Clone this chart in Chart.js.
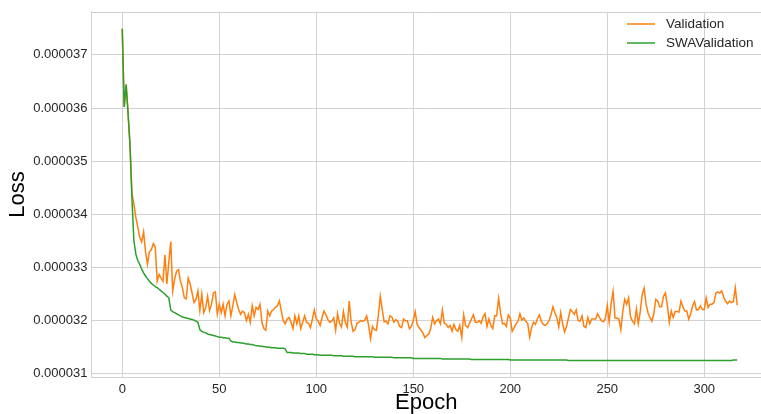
<!DOCTYPE html>
<html>
<head>
<meta charset="utf-8">
<script src="https://cdn.jsdelivr.net/npm/chart.js@4/dist/chart.umd.min.js"></script>
<style>
  html, body { margin: 0; padding: 0; background: #ffffff; }
  #wrap { width: 761px; height: 414px; }
</style>
</head>
<body>
<div id="wrap"><canvas id="lossChart" width="761" height="414"></canvas></div>
<script>
// loss curves, in units of 1e-6
const validation = [
  37.49e-6, 36.02e-6, 36.44e-6, 35.90e-6, 35.30e-6, 34.40e-6, 34.19e-6, 33.94e-6, 33.76e-6, 33.57e-6,
  33.48e-6, 33.67e-6, 33.30e-6, 33.06e-6, 33.30e-6, 33.33e-6, 33.45e-6, 33.39e-6, 32.74e-6, 32.87e-6,
  32.80e-6, 32.74e-6, 33.24e-6, 32.69e-6, 33.10e-6, 33.49e-6, 32.56e-6, 32.78e-6, 32.93e-6, 32.96e-6,
  32.74e-6, 32.62e-6, 32.43e-6, 32.41e-6, 32.80e-6, 32.69e-6, 32.52e-6, 32.34e-6, 32.40e-6, 32.56e-6,
  32.19e-6, 32.50e-6, 32.15e-6, 32.24e-6, 32.46e-6, 32.19e-6, 32.31e-6, 32.52e-6, 32.54e-6, 32.12e-6,
  32.31e-6, 32.15e-6, 32.31e-6, 32.09e-6, 32.31e-6, 32.37e-6, 32.09e-6, 32.28e-6, 32.49e-6, 32.34e-6,
  32.21e-6, 32.12e-6, 32.18e-6, 32.15e-6, 32.00e-6, 32.12e-6, 31.97e-6, 32.28e-6, 32.09e-6, 32.25e-6,
  32.21e-6, 32.31e-6, 31.97e-6, 31.85e-6, 31.82e-6, 32.18e-6, 32.09e-6, 32.18e-6, 32.21e-6, 32.25e-6,
  32.28e-6, 32.37e-6, 32.18e-6, 32.00e-6, 31.94e-6, 32.03e-6, 32.06e-6, 31.97e-6, 31.85e-6, 32.09e-6,
  31.94e-6, 32.09e-6, 31.85e-6, 31.97e-6, 32.09e-6, 31.97e-6, 31.95e-6, 31.87e-6, 32.03e-6, 32.20e-6,
  32.03e-6, 31.99e-6, 31.91e-6, 32.06e-6, 32.18e-6, 32.11e-6, 32.02e-6, 31.97e-6, 31.99e-6, 32.05e-6,
  31.82e-6, 32.13e-6, 31.95e-6, 31.88e-6, 32.17e-6, 31.97e-6, 31.88e-6, 32.37e-6, 31.97e-6, 31.80e-6,
  31.83e-6, 31.95e-6, 31.97e-6, 32.00e-6, 31.99e-6, 32.01e-6, 32.09e-6, 31.91e-6, 31.66e-6, 31.89e-6,
  31.83e-6, 31.82e-6, 32.09e-6, 32.46e-6, 32.21e-6, 31.98e-6, 31.99e-6, 31.94e-6, 32.09e-6, 32.07e-6,
  31.97e-6, 32.02e-6, 31.99e-6, 31.89e-6, 31.87e-6, 32.03e-6, 32.00e-6, 32.00e-6, 31.85e-6, 31.89e-6,
  32.00e-6, 32.17e-6, 31.93e-6, 31.87e-6, 31.82e-6, 31.77e-6, 31.68e-6, 31.72e-6, 31.75e-6, 31.85e-6,
  32.06e-6, 31.94e-6, 32.00e-6, 32.03e-6, 31.94e-6, 32.20e-6, 31.95e-6, 31.93e-6, 31.87e-6, 31.91e-6,
  31.80e-6, 31.93e-6, 31.83e-6, 31.80e-6, 31.91e-6, 31.68e-6, 32.11e-6, 31.91e-6, 31.87e-6, 31.95e-6,
  32.03e-6, 32.11e-6, 31.97e-6, 31.97e-6, 32.00e-6, 31.95e-6, 32.07e-6, 32.13e-6, 31.89e-6, 32.03e-6,
  31.91e-6, 31.85e-6, 32.09e-6, 32.09e-6, 32.42e-6, 32.15e-6, 31.94e-6, 31.95e-6, 31.89e-6, 32.11e-6,
  32.05e-6, 31.80e-6, 31.87e-6, 31.94e-6, 31.99e-6, 32.13e-6, 32.01e-6, 32.05e-6, 31.99e-6, 31.95e-6,
  31.69e-6, 31.87e-6, 31.97e-6, 31.93e-6, 32.03e-6, 32.11e-6, 31.99e-6, 31.93e-6, 31.91e-6, 31.94e-6,
  32.00e-6, 32.11e-6, 32.26e-6, 32.15e-6, 32.06e-6, 31.88e-6, 32.15e-6, 31.94e-6, 31.79e-6, 31.89e-6,
  32.05e-6, 32.21e-6, 32.17e-6, 32.12e-6, 32.20e-6, 32.00e-6, 31.99e-6, 32.09e-6, 31.89e-6, 31.87e-6,
  32.06e-6, 31.94e-6, 32.03e-6, 32.03e-6, 32.03e-6, 32.13e-6, 32.06e-6, 32.00e-6, 31.98e-6, 32.03e-6,
  32.28e-6, 31.97e-6, 32.32e-6, 32.55e-6, 32.05e-6, 32.05e-6, 32.03e-6, 31.83e-6, 32.17e-6, 32.40e-6,
  32.31e-6, 32.43e-6, 32.07e-6, 31.99e-6, 31.94e-6, 32.22e-6, 31.94e-6, 32.17e-6, 32.49e-6, 32.61e-6,
  32.31e-6, 32.15e-6, 32.06e-6, 31.99e-6, 32.13e-6, 32.40e-6, 32.37e-6, 32.26e-6, 32.26e-6, 32.46e-6,
  32.52e-6, 32.28e-6, 31.97e-6, 32.18e-6, 32.06e-6, 32.17e-6, 32.17e-6, 32.16e-6, 32.37e-6, 32.26e-6,
  32.18e-6, 32.18e-6, 32.03e-6, 32.13e-6, 32.28e-6, 32.36e-6, 32.20e-6, 32.21e-6, 32.28e-6, 32.21e-6,
  32.21e-6, 32.43e-6, 32.25e-6, 32.31e-6, 32.31e-6, 32.34e-6, 32.52e-6, 32.54e-6, 32.52e-6, 32.56e-6,
  32.44e-6, 32.37e-6, 32.32e-6, 32.37e-6, 32.34e-6, 32.36e-6, 32.62e-6, 32.29e-6
];

const swaValidation = [
  37.49e-6, 36.02e-6, 36.44e-6, 35.90e-6, 35.30e-6, 34.30e-6, 33.50e-6, 33.25e-6, 33.13e-6, 33.06e-6,
  32.97e-6, 32.90e-6, 32.84e-6, 32.79e-6, 32.74e-6, 32.70e-6, 32.67e-6, 32.64e-6, 32.62e-6, 32.59e-6,
  32.56e-6, 32.53e-6, 32.50e-6, 32.46e-6, 32.43e-6, 32.20e-6, 32.17e-6, 32.15e-6, 32.13e-6, 32.11e-6,
  32.09e-6, 32.07e-6, 32.06e-6, 32.05e-6, 32.04e-6, 32.03e-6, 32.02e-6, 32.01e-6, 31.99e-6, 31.97e-6,
  31.83e-6, 31.80e-6, 31.78e-6, 31.77e-6, 31.75e-6, 31.74e-6, 31.73e-6, 31.72e-6, 31.71e-6, 31.70e-6,
  31.69e-6, 31.69e-6, 31.68e-6, 31.68e-6, 31.67e-6, 31.67e-6, 31.62e-6, 31.60e-6, 31.60e-6, 31.59e-6,
  31.59e-6, 31.58e-6, 31.58e-6, 31.57e-6, 31.56e-6, 31.56e-6, 31.55e-6, 31.55e-6, 31.54e-6, 31.53e-6,
  31.53e-6, 31.52e-6, 31.52e-6, 31.51e-6, 31.51e-6, 31.50e-6, 31.50e-6, 31.49e-6, 31.49e-6, 31.49e-6,
  31.48e-6, 31.48e-6, 31.48e-6, 31.48e-6, 31.47e-6, 31.40e-6, 31.40e-6, 31.40e-6, 31.39e-6, 31.39e-6,
  31.39e-6, 31.39e-6, 31.38e-6, 31.38e-6, 31.38e-6, 31.37e-6, 31.37e-6, 31.37e-6, 31.37e-6, 31.36e-6,
  31.36e-6, 31.36e-6, 31.35e-6, 31.35e-6, 31.35e-6, 31.35e-6, 31.35e-6, 31.35e-6, 31.35e-6, 31.34e-6,
  31.34e-6, 31.34e-6, 31.34e-6, 31.34e-6, 31.33e-6, 31.33e-6, 31.33e-6, 31.33e-6, 31.33e-6, 31.33e-6,
  31.32e-6, 31.32e-6, 31.32e-6, 31.32e-6, 31.32e-6, 31.32e-6, 31.32e-6, 31.32e-6, 31.32e-6, 31.32e-6,
  31.31e-6, 31.31e-6, 31.31e-6, 31.31e-6, 31.31e-6, 31.31e-6, 31.31e-6, 31.31e-6, 31.31e-6, 31.31e-6,
  31.30e-6, 31.30e-6, 31.30e-6, 31.30e-6, 31.30e-6, 31.30e-6, 31.30e-6, 31.30e-6, 31.30e-6, 31.30e-6,
  31.29e-6, 31.29e-6, 31.29e-6, 31.29e-6, 31.29e-6, 31.29e-6, 31.29e-6, 31.29e-6, 31.29e-6, 31.29e-6,
  31.29e-6, 31.29e-6, 31.29e-6, 31.29e-6, 31.29e-6, 31.28e-6, 31.28e-6, 31.28e-6, 31.28e-6, 31.28e-6,
  31.28e-6, 31.28e-6, 31.28e-6, 31.28e-6, 31.28e-6, 31.28e-6, 31.28e-6, 31.28e-6, 31.28e-6, 31.28e-6,
  31.27e-6, 31.27e-6, 31.27e-6, 31.27e-6, 31.27e-6, 31.27e-6, 31.27e-6, 31.27e-6, 31.27e-6, 31.27e-6,
  31.27e-6, 31.27e-6, 31.27e-6, 31.27e-6, 31.27e-6, 31.27e-6, 31.27e-6, 31.27e-6, 31.27e-6, 31.27e-6,
  31.26e-6, 31.26e-6, 31.26e-6, 31.26e-6, 31.26e-6, 31.26e-6, 31.26e-6, 31.26e-6, 31.26e-6, 31.26e-6,
  31.26e-6, 31.26e-6, 31.26e-6, 31.26e-6, 31.26e-6, 31.26e-6, 31.26e-6, 31.26e-6, 31.26e-6, 31.26e-6,
  31.26e-6, 31.26e-6, 31.26e-6, 31.26e-6, 31.26e-6, 31.26e-6, 31.26e-6, 31.26e-6, 31.26e-6, 31.26e-6,
  31.25e-6, 31.25e-6, 31.25e-6, 31.25e-6, 31.25e-6, 31.25e-6, 31.25e-6, 31.25e-6, 31.25e-6, 31.25e-6,
  31.25e-6, 31.25e-6, 31.25e-6, 31.25e-6, 31.25e-6, 31.25e-6, 31.25e-6, 31.25e-6, 31.25e-6, 31.25e-6,
  31.25e-6, 31.25e-6, 31.25e-6, 31.25e-6, 31.25e-6, 31.25e-6, 31.25e-6, 31.25e-6, 31.25e-6, 31.25e-6,
  31.25e-6, 31.25e-6, 31.25e-6, 31.25e-6, 31.25e-6, 31.25e-6, 31.25e-6, 31.25e-6, 31.25e-6, 31.25e-6,
  31.25e-6, 31.25e-6, 31.25e-6, 31.25e-6, 31.25e-6, 31.25e-6, 31.25e-6, 31.25e-6, 31.25e-6, 31.25e-6,
  31.25e-6, 31.25e-6, 31.25e-6, 31.25e-6, 31.25e-6, 31.25e-6, 31.25e-6, 31.25e-6, 31.25e-6, 31.25e-6,
  31.25e-6, 31.25e-6, 31.25e-6, 31.25e-6, 31.25e-6, 31.25e-6, 31.25e-6, 31.25e-6, 31.25e-6, 31.25e-6,
  31.25e-6, 31.25e-6, 31.25e-6, 31.25e-6, 31.25e-6, 31.25e-6, 31.25e-6, 31.25e-6, 31.25e-6, 31.25e-6,
  31.25e-6, 31.25e-6, 31.25e-6, 31.25e-6, 31.25e-6, 31.26e-6, 31.26e-6, 31.26e-6
];

const epochs = validation.map((_, i) => i);
const xTicks = [0, 50, 100, 150, 200, 250, 300];
const yTicks = [31e-6, 32e-6, 33e-6, 34e-6, 35e-6, 36e-6, 37e-6];

const GRID = "#d2d2d2";
const TEXT = "#262626";
const FONT = "'Liberation Sans', Arial, sans-serif";

// matplotlib style legend in the top right + top spine
const legendPlugin = {
  id: "mplLegend",
  afterDraw(chart) {
    const ctx = chart.ctx;
    const area = chart.chartArea;
    ctx.save();
    ctx.strokeStyle = GRID;
    ctx.lineWidth = 1;
    ctx.beginPath();
    ctx.moveTo(area.left, Math.round(area.top) + 0.5);
    ctx.lineTo(area.right, Math.round(area.top) + 0.5);
    ctx.stroke();

    const items = [chart.data.datasets[0], chart.data.datasets[1]];
    ctx.font = "13.5px " + FONT;
    ctx.textBaseline = "middle";
    ctx.fillStyle = TEXT;
    items.forEach((ds, i) => {
      const y = 24 + i * 19;
      ctx.strokeStyle = ds.borderColor;
      ctx.lineWidth = 1.5;
      ctx.beginPath();
      ctx.moveTo(627, y);
      ctx.lineTo(655, y);
      ctx.stroke();
      ctx.fillText(ds.label, 666, y);
    });
    ctx.restore();
  },
};

const ctx = document.getElementById("lossChart").getContext("2d");
const chart = new Chart(ctx, {
  type: "line",
  data: {
    labels: epochs,
    datasets: [
      {
        label: "Validation",
        data: validation,
        borderColor: "#ff7f0e",
        borderWidth: 1.5,
        pointRadius: 0,
        tension: 0,
        fill: false,
        order: 1,
      },
      {
        label: "SWAValidation",
        data: swaValidation,
        borderColor: "#2ca02c",
        borderWidth: 1.5,
        pointRadius: 0,
        tension: 0,
        fill: false,
        order: 0,
      },
    ],
  },
  options: {
    responsive: false,
    animation: false,
    devicePixelRatio: 1,
    layout: { padding: { top: 6, right: 0, bottom: 0, left: 0 } },
    plugins: { legend: { display: false }, tooltip: { enabled: false } },
    scales: {
      x: {
        type: "linear",
        min: -15.85,
        max: 329.25,
        afterBuildTicks: (s) => { s.ticks = xTicks.map((v) => ({ value: v })); },
        afterFit: (s) => { s.height = 37; },
        grid: { color: GRID, lineWidth: 1, drawTicks: false },
        border: { color: GRID, width: 1 },
        ticks: {
          color: TEXT,
          font: { family: FONT, size: 13 },
          padding: 5,
          maxRotation: 0,
          callback: (v) => String(v),
        },
        title: {
          display: true,
          text: "Epoch",
          color: "#000000",
          font: { family: FONT, size: 22, lineHeight: 1 },
          padding: { top: 0, bottom: 0 },
        },
      },
      y: {
        min: 30.94e-6,
        max: 37.81e-6,
        afterBuildTicks: (s) => { s.ticks = yTicks.map((v) => ({ value: v })); },
        afterFit: (s) => { s.width = 91.5; },
        grid: { color: GRID, lineWidth: 1, drawTicks: false },
        border: { color: GRID, width: 1 },
        ticks: {
          color: TEXT,
          font: { family: FONT, size: 13 },
          padding: 4,
          callback: (v) => v.toFixed(6),
        },
        title: {
          display: true,
          text: "Loss",
          color: "#000000",
          font: { family: FONT, size: 22, lineHeight: 1 },
          padding: { top: 7, bottom: 0 },
        },
      },
    },
  },
  plugins: [legendPlugin],
});
</script>
</body>
</html>
